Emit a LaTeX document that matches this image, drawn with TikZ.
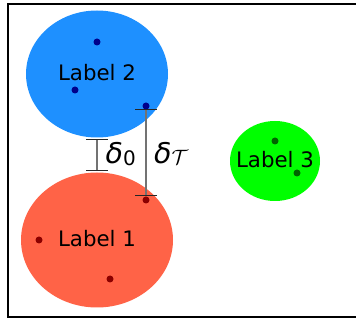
\documentclass[tikz,border=0pt]{standalone}
\usepackage{fontspec}
\setmainfont{DejaVu Sans}
\newfontfamily\dvit{DejaVu Sans Oblique}
\usetikzlibrary{shapes.geometric}
\definecolor{cblue}{HTML}{1E90FF}
\definecolor{cred}{HTML}{FF6347}
\definecolor{cgreen}{HTML}{00FF00}
\definecolor{dblue}{HTML}{00008B}
\definecolor{dred}{HTML}{8B0000}
\definecolor{dgreen}{HTML}{006400}
\tikzset{
  blob/.style={ellipse, inner sep=0pt, draw=none},
  pt/.style={circle, inner sep=0pt, minimum size=7pt, fill=#1},
  lab/.style={inner sep=0pt, font=\fontsize{21.3}{24}\selectfont},
  bar/.style={draw=black!55, line width=1.6pt},
  capline/.style={draw=black!85, line width=1pt},
  dlab/.style={inner sep=0pt, anchor=base west, font=\fontsize{28.5}{32}\selectfont}
}
\begin{document}
\begin{tikzpicture}[x=1pt,y=-1pt]
\useasboundingbox (0,0) rectangle (356,320);
\clip (0,0) rectangle (356,320);
\draw[line width=2pt] (8.3,3.7) rectangle (380,317);
% clusters
\node[blob, fill=cblue, minimum width=142pt, minimum height=127pt] (c2) at (97,74) {};
\node[blob, fill=cred, minimum width=152pt, minimum height=135pt] (c1) at (97,240) {};
\node[blob, fill=cgreen, minimum width=90pt, minimum height=80pt] (c3) at (275,161) {};
% points
\node[pt=dblue] (b1) at (97,42) {};
\node[pt=dblue] (b2) at (75,90) {};
\node[pt=dblue] (b3) at (146,106) {};
\node[pt=dred] (r1) at (39,240) {};
\node[pt=dred] (r2) at (110,279) {};
\node[pt=dred] (r3) at (146,200) {};
\node[pt=dgreen] (g1) at (275,141) {};
\node[pt=dgreen] (g2) at (297,173) {};
% labels
\node[lab] (l2) at (97,73) {Label 2};
\node[lab] (l1) at (97,239) {Label 1};
\node[lab] (l3) at (275,160) {Label 3};
% delta 0 bar
\coordinate (d0t) at (96.7,139.3);
\coordinate (d0b) at (96.7,170.7);
\draw[bar] (d0t) -- (d0b);
\draw[capline] ([xshift=-10.7pt]d0t) -- ([xshift=11pt]d0t);
\draw[capline] ([xshift=-10.7pt]d0b) -- ([xshift=11pt]d0b);
% delta T bar
\coordinate (dtt) at (146,109.3);
\coordinate (dtb) at (146,196);
\draw[bar] (dtt) -- (dtb);
\draw[capline] ([xshift=-11pt]dtt) -- ([xshift=10.7pt]dtt);
\draw[capline] ([xshift=-11pt]dtb) -- ([xshift=10.7pt]dtb);
% delta labels
\node[dlab] (dl0) at (105.5,163.3) {{\dvit δ}\raisebox{-2.7pt}{\fontsize{20}{20}\selectfont 0}};
\node[dlab] (dlt) at (154,163.3) {{\dvit δ}\raisebox{-1.7pt}{\fontsize{20}{20}\selectfont$\mathcal{T}$}};
\end{tikzpicture}
\end{document}
